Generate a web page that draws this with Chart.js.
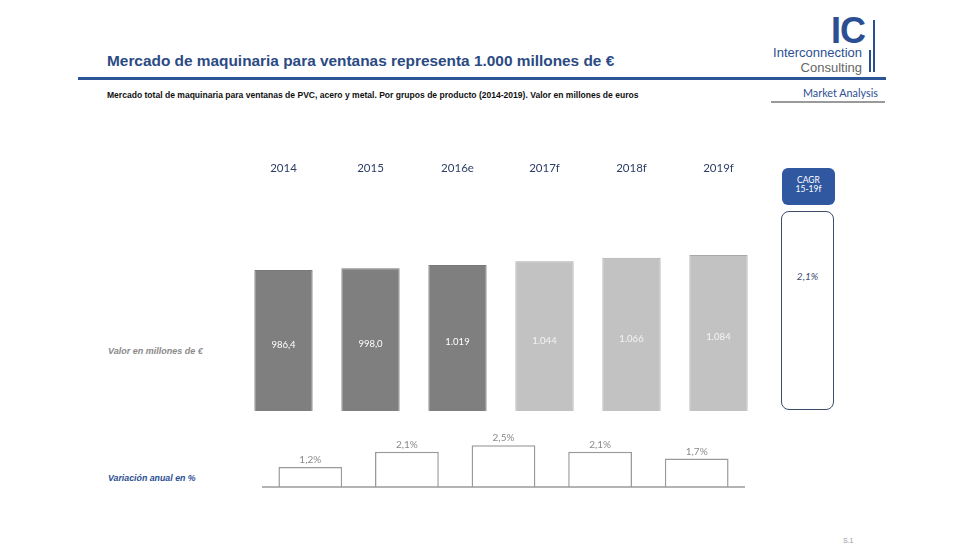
<!DOCTYPE html>
<html>
<head>
<meta charset="utf-8">
<script src="https://cdn.jsdelivr.net/npm/chart.js@4/dist/chart.umd.min.js"></script>
<style>
body{margin:0;background:#fff;width:980px;height:560px;position:relative;overflow:hidden;font-family:"Liberation Sans",Arial,sans-serif}
.abs{position:absolute;white-space:nowrap}
#title{left:107px;top:52px;font-size:15.4px;font-weight:bold;color:#2b4a84}
#sub{left:107px;top:90px;font-size:8.55px;font-weight:bold;color:#111}
#rule1{left:78px;top:77px;width:808px;height:3px;background:#2c5597}
#rule2{left:771px;top:101px;width:114px;height:2px;background:#9a9a9a}
#ic{left:831px;top:13px;font-size:36px;font-weight:bold;color:#2c4f93;letter-spacing:-1px;line-height:36px}
#inter{right:118px;top:45px;font-size:13px;color:#2c4f93}
#cons{right:118px;top:60px;font-size:13px;color:#666}
#vl1{left:869px;top:50px;width:2px;height:22px;background:#2c4f93}
#vl2{left:873px;top:20px;width:2px;height:52px;background:#2c4f93}
#market{left:803px;top:86px;font-family:Lato,sans-serif;font-size:10.8px;color:#2c4f93}
#valor{left:108px;top:346px;font-size:9px;font-style:italic;font-weight:bold;color:#8a8a8a}
#varia{left:108px;top:473px;font-size:8.8px;font-style:italic;font-weight:bold;color:#2c4f93}
#s1{left:843px;top:537px;font-size:7px;color:#999}
#cagrHead{left:782px;top:168px;width:53px;height:37px;background:#2f58a0;border-radius:6px;color:#fff;font-family:Lato,sans-serif;font-size:8.5px;line-height:9px;text-align:center;padding-top:8px;box-sizing:border-box}
#cagrBox{left:781px;top:211px;width:53px;height:199px;border:1.5px solid #3c4c6e;border-radius:8px;box-sizing:border-box}
#cagrVal{left:781px;top:270px;width:53px;text-align:center;font-family:Lato,sans-serif;font-style:italic;font-size:10px;color:#3c4c6e}
#main{left:240px;top:140px}
#vari{left:262px;top:420px}
</style>
</head>
<body>
<div class="abs" id="title">Mercado de maquinaria para ventanas representa 1.000 millones de €</div>
<div class="abs" id="rule1"></div>
<div class="abs" id="sub">Mercado total de maquinaria para ventanas de PVC, acero y metal. Por grupos de producto (2014-2019). Valor en millones de euros</div>
<div class="abs" id="ic">IC</div>
<div class="abs" id="vl1"></div>
<div class="abs" id="vl2"></div>
<div class="abs" id="inter">Interconnection</div>
<div class="abs" id="cons">Consulting</div>
<div class="abs" id="market">Market Analysis</div>
<div class="abs" id="rule2"></div>
<div class="abs" id="valor">Valor en millones de €</div>
<div class="abs" id="varia">Variación anual en %</div>
<div class="abs" id="s1">S.1</div>
<div class="abs" id="cagrHead">CAGR<br>15-19f</div>
<div class="abs" id="cagrBox"></div>
<div class="abs" id="cagrVal">2,1%</div>
<canvas class="abs" id="main" width="522" height="280"></canvas>
<canvas class="abs" id="vari" width="483" height="69"></canvas>
<script>
// datos del mercado
var years = ['2014', '2015', '2016e', '2017f', '2018f', '2019f'];
var valores = [986.4, 998.0, 1019, 1044, 1066, 1084];
var valorLabels = ['986,4', '998,0', '1.019', '1.044', '1.066', '1.084'];
var variacion = [1.2, 2.1, 2.5, 2.1, 1.7];
var variacionLabels = ['1,2%', '2,1%', '2,5%', '2,1%', '1,7%'];

var colores = years.map(function (y, i) { return i < 3 ? '#7f7f7f' : '#c2c2c2'; });
var bordes = years.map(function (y, i) { return i < 3 ? '#797979' : '#a9a9a9'; });

var mainLabels = {
  id: 'mainLabels',
  afterDatasetsDraw: function (chart) {
    var ctx = chart.ctx;
    var xs = chart.scales.x;
    ctx.save();
    ctx.textAlign = 'center';
    ctx.textBaseline = 'middle';
    ctx.font = '11.5px Lato, sans-serif';
    ctx.fillStyle = '#2d3e66';
    years.forEach(function (y, i) {
      ctx.fillText(y, xs.getPixelForValue(i), 28);
    });
    ctx.font = '9.5px Lato, sans-serif';
    chart.getDatasetMeta(0).data.forEach(function (bar, i) {
      ctx.fillStyle = i < 3 ? '#ffffff' : '#f4f4f4';
      ctx.fillText(valorLabels[i], bar.x, (bar.y + bar.base) / 2 - 1);
    });
    ctx.restore();
  }
};

new Chart(document.getElementById('main'), {
  type: 'bar',
  data: {
    labels: years,
    datasets: [{
      data: valores,
      backgroundColor: colores,
      borderColor: bordes,
      borderWidth: 1,
      borderSkipped: false,
      barPercentage: 0.67,
      categoryPercentage: 1
    }]
  },
  options: {
    responsive: false,
    animation: false,
    layout: { padding: { top: 51, bottom: 9, left: 0, right: 0 } },
    plugins: { legend: { display: false }, tooltip: { enabled: false } },
    scales: {
      x: { display: false },
      y: { display: false, min: 70, max: 1500 }
    }
  },
  plugins: [mainLabels]
});

var variLabels = {
  id: 'variLabels',
  afterDatasetsDraw: function (chart) {
    var ctx = chart.ctx;
    var a = chart.chartArea;
    ctx.save();
    ctx.strokeStyle = '#9a9a9a';
    ctx.lineWidth = 1.5;
    ctx.beginPath();
    ctx.moveTo(a.left, a.bottom);
    ctx.lineTo(a.right, a.bottom);
    ctx.stroke();
    ctx.textAlign = 'center';
    ctx.textBaseline = 'bottom';
    ctx.font = '10px Lato, sans-serif';
    ctx.fillStyle = '#8a8a8a';
    chart.getDatasetMeta(0).data.forEach(function (bar, i) {
      ctx.fillText(variacionLabels[i], bar.x, bar.y - 2);
    });
    ctx.restore();
  }
};

new Chart(document.getElementById('vari'), {
  type: 'bar',
  data: {
    labels: variacion.map(function (v, i) { return i; }),
    datasets: [{
      data: variacion,
      backgroundColor: '#ffffff',
      borderColor: '#9a9a9a',
      borderWidth: 1.5,
      barPercentage: 0.66,
      categoryPercentage: 1
    }]
  },
  options: {
    responsive: false,
    animation: false,
    layout: { padding: { top: 0, bottom: 2, left: 0, right: 0 } },
    plugins: { legend: { display: false }, tooltip: { enabled: false } },
    scales: {
      x: { display: false },
      y: { display: false, min: 0, max: 4 }
    }
  },
  plugins: [variLabels]
});
</script>
</body>
</html>
